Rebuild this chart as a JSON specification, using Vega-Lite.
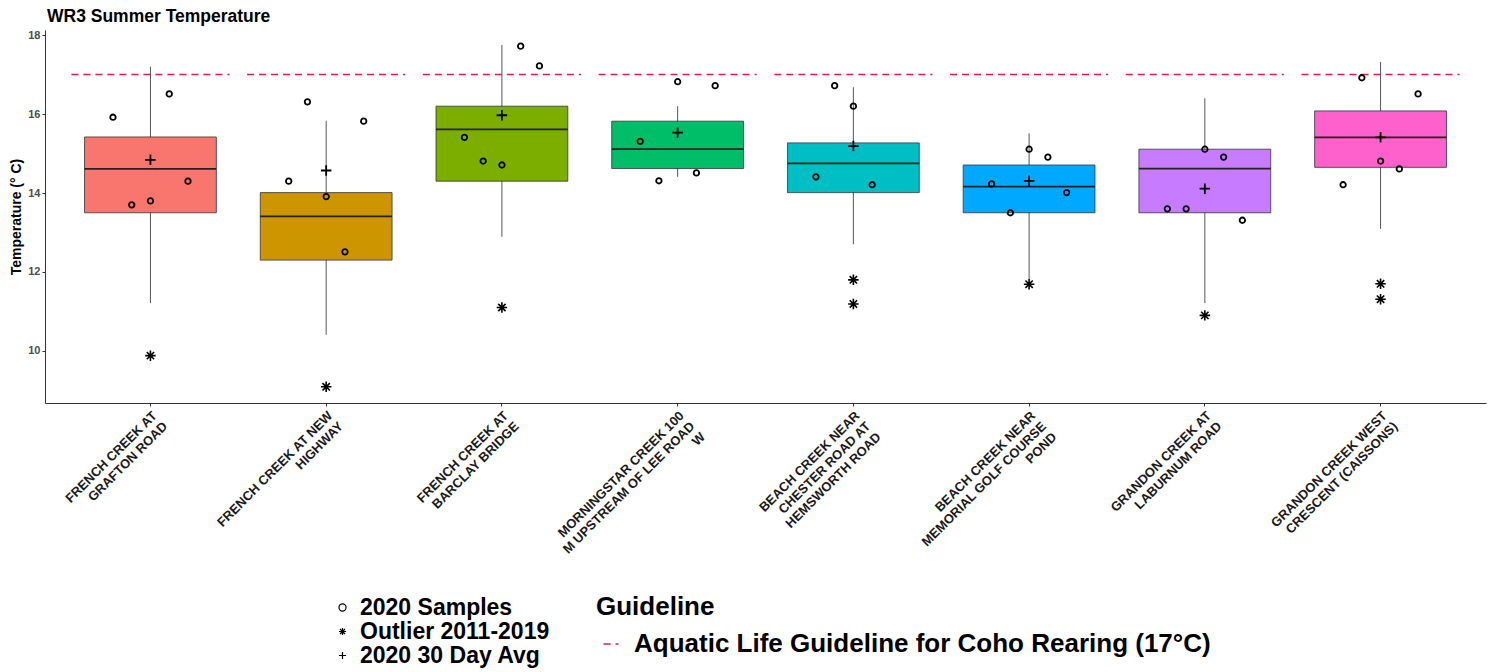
{
  "$schema": "https://vega.github.io/schema/vega-lite/v6.json",
  "width": 1441,
  "height": 373,
  "autosize": {"type": "none"},
  "padding": {"left": 45, "top": 30, "right": 9, "bottom": 269},
  "background": "white",
  "title": {"text": "WR3 Summer Temperature", "anchor": "start", "frame": "group", "fontSize": 17.5, "fontWeight": "bold", "font": "Liberation Sans", "color": "black", "offset": 8, "baseline": "alphabetic", "dx": 2, "dy": 18},
  "config": {
    "view": {"stroke": null},
    "axis": {"grid": false, "domainColor": "#333333", "tickColor": "#333333", "labelFont": "Liberation Sans", "titleFont": "Liberation Sans"},
    "legend": {"labelFont": "Liberation Sans", "titleFont": "Liberation Sans"}
  },
  "datasets": {
    "sites": [
      {"site": "FRENCH CREEK AT\nGRAFTON ROAD", "lower": 11.21, "q1": 13.50, "median": 14.61, "q3": 15.42, "upper": 17.20, "guideline": 17, "guide": "Aquatic Life Guideline for Coho Rearing (17°C)"},
      {"site": "FRENCH CREEK AT NEW\nHIGHWAY", "lower": 10.41, "q1": 12.30, "median": 13.41, "q3": 14.01, "upper": 15.83, "guideline": 17, "guide": "Aquatic Life Guideline for Coho Rearing (17°C)"},
      {"site": "FRENCH CREEK AT\nBARCLAY BRIDGE", "lower": 12.89, "q1": 14.30, "median": 15.61, "q3": 16.20, "upper": 17.75, "guideline": 17, "guide": "Aquatic Life Guideline for Coho Rearing (17°C)"},
      {"site": "MORNINGSTAR CREEK 100\nM UPSTREAM OF LEE ROAD\nW", "lower": 14.41, "q1": 14.62, "median": 15.11, "q3": 15.82, "upper": 16.20, "guideline": 17, "guide": "Aquatic Life Guideline for Coho Rearing (17°C)"},
      {"site": "BEACH CREEK NEAR\nCHESTER ROAD AT\nHEMSWORTH ROAD", "lower": 12.70, "q1": 14.01, "median": 14.75, "q3": 15.27, "upper": 16.68, "guideline": 17, "guide": "Aquatic Life Guideline for Coho Rearing (17°C)"},
      {"site": "BEACH CREEK NEAR\nMEMORIAL GOLF COURSE\nPOND", "lower": 11.82, "q1": 13.50, "median": 14.16, "q3": 14.71, "upper": 15.51, "guideline": 17, "guide": "Aquatic Life Guideline for Coho Rearing (17°C)"},
      {"site": "GRANDON CREEK AT\nLABURNUM ROAD", "lower": 11.21, "q1": 13.50, "median": 14.62, "q3": 15.11, "upper": 16.40, "guideline": 17, "guide": "Aquatic Life Guideline for Coho Rearing (17°C)"},
      {"site": "GRANDON CREEK WEST\nCRESCENT (CAISSONS)", "lower": 13.09, "q1": 14.65, "median": 15.41, "q3": 16.08, "upper": 17.32, "guideline": 17, "guide": "Aquatic Life Guideline for Coho Rearing (17°C)"}
    ],
    "obs": [
      {"site": "FRENCH CREEK AT\nGRAFTON ROAD", "kind": "2020 Samples", "temp": 15.92, "sample": "1"},
      {"site": "FRENCH CREEK AT\nGRAFTON ROAD", "kind": "2020 Samples", "temp": 13.70, "sample": "2"},
      {"site": "FRENCH CREEK AT\nGRAFTON ROAD", "kind": "2020 Samples", "temp": 13.80, "sample": "3"},
      {"site": "FRENCH CREEK AT\nGRAFTON ROAD", "kind": "2020 Samples", "temp": 16.51, "sample": "4"},
      {"site": "FRENCH CREEK AT\nGRAFTON ROAD", "kind": "2020 Samples", "temp": 14.30, "sample": "5"},
      {"site": "FRENCH CREEK AT\nGRAFTON ROAD", "kind": "2020 30 Day Avg", "temp": 14.84},
      {"site": "FRENCH CREEK AT\nGRAFTON ROAD", "kind": "Outlier 2011-2019", "temp": 9.88},
      {"site": "FRENCH CREEK AT NEW\nHIGHWAY", "kind": "2020 Samples", "temp": 14.30, "sample": "1"},
      {"site": "FRENCH CREEK AT NEW\nHIGHWAY", "kind": "2020 Samples", "temp": 16.31, "sample": "2"},
      {"site": "FRENCH CREEK AT NEW\nHIGHWAY", "kind": "2020 Samples", "temp": 13.91, "sample": "3"},
      {"site": "FRENCH CREEK AT NEW\nHIGHWAY", "kind": "2020 Samples", "temp": 12.51, "sample": "4"},
      {"site": "FRENCH CREEK AT NEW\nHIGHWAY", "kind": "2020 Samples", "temp": 15.82, "sample": "5"},
      {"site": "FRENCH CREEK AT NEW\nHIGHWAY", "kind": "2020 30 Day Avg", "temp": 14.57},
      {"site": "FRENCH CREEK AT NEW\nHIGHWAY", "kind": "Outlier 2011-2019", "temp": 9.09},
      {"site": "FRENCH CREEK AT\nBARCLAY BRIDGE", "kind": "2020 Samples", "temp": 15.41, "sample": "1"},
      {"site": "FRENCH CREEK AT\nBARCLAY BRIDGE", "kind": "2020 Samples", "temp": 14.81, "sample": "2"},
      {"site": "FRENCH CREEK AT\nBARCLAY BRIDGE", "kind": "2020 Samples", "temp": 14.71, "sample": "3"},
      {"site": "FRENCH CREEK AT\nBARCLAY BRIDGE", "kind": "2020 Samples", "temp": 17.72, "sample": "4"},
      {"site": "FRENCH CREEK AT\nBARCLAY BRIDGE", "kind": "2020 Samples", "temp": 17.22, "sample": "5"},
      {"site": "FRENCH CREEK AT\nBARCLAY BRIDGE", "kind": "2020 30 Day Avg", "temp": 15.97},
      {"site": "FRENCH CREEK AT\nBARCLAY BRIDGE", "kind": "Outlier 2011-2019", "temp": 11.10},
      {"site": "MORNINGSTAR CREEK 100\nM UPSTREAM OF LEE ROAD\nW", "kind": "2020 Samples", "temp": 15.31, "sample": "1"},
      {"site": "MORNINGSTAR CREEK 100\nM UPSTREAM OF LEE ROAD\nW", "kind": "2020 Samples", "temp": 14.31, "sample": "2"},
      {"site": "MORNINGSTAR CREEK 100\nM UPSTREAM OF LEE ROAD\nW", "kind": "2020 Samples", "temp": 16.82, "sample": "3"},
      {"site": "MORNINGSTAR CREEK 100\nM UPSTREAM OF LEE ROAD\nW", "kind": "2020 Samples", "temp": 14.51, "sample": "4"},
      {"site": "MORNINGSTAR CREEK 100\nM UPSTREAM OF LEE ROAD\nW", "kind": "2020 Samples", "temp": 16.72, "sample": "5"},
      {"site": "MORNINGSTAR CREEK 100\nM UPSTREAM OF LEE ROAD\nW", "kind": "2020 30 Day Avg", "temp": 15.53},
      {"site": "BEACH CREEK NEAR\nCHESTER ROAD AT\nHEMSWORTH ROAD", "kind": "2020 Samples", "temp": 14.41, "sample": "1"},
      {"site": "BEACH CREEK NEAR\nCHESTER ROAD AT\nHEMSWORTH ROAD", "kind": "2020 Samples", "temp": 16.72, "sample": "2"},
      {"site": "BEACH CREEK NEAR\nCHESTER ROAD AT\nHEMSWORTH ROAD", "kind": "2020 Samples", "temp": 16.20, "sample": "3"},
      {"site": "BEACH CREEK NEAR\nCHESTER ROAD AT\nHEMSWORTH ROAD", "kind": "2020 Samples", "temp": 14.21, "sample": "4"},
      {"site": "BEACH CREEK NEAR\nCHESTER ROAD AT\nHEMSWORTH ROAD", "kind": "2020 30 Day Avg", "temp": 15.19},
      {"site": "BEACH CREEK NEAR\nCHESTER ROAD AT\nHEMSWORTH ROAD", "kind": "Outlier 2011-2019", "temp": 11.80},
      {"site": "BEACH CREEK NEAR\nCHESTER ROAD AT\nHEMSWORTH ROAD", "kind": "Outlier 2011-2019", "temp": 11.19},
      {"site": "BEACH CREEK NEAR\nMEMORIAL GOLF COURSE\nPOND", "kind": "2020 Samples", "temp": 14.23, "sample": "1"},
      {"site": "BEACH CREEK NEAR\nMEMORIAL GOLF COURSE\nPOND", "kind": "2020 Samples", "temp": 13.50, "sample": "2"},
      {"site": "BEACH CREEK NEAR\nMEMORIAL GOLF COURSE\nPOND", "kind": "2020 Samples", "temp": 15.11, "sample": "3"},
      {"site": "BEACH CREEK NEAR\nMEMORIAL GOLF COURSE\nPOND", "kind": "2020 Samples", "temp": 14.91, "sample": "4"},
      {"site": "BEACH CREEK NEAR\nMEMORIAL GOLF COURSE\nPOND", "kind": "2020 Samples", "temp": 14.01, "sample": "5"},
      {"site": "BEACH CREEK NEAR\nMEMORIAL GOLF COURSE\nPOND", "kind": "2020 30 Day Avg", "temp": 14.31},
      {"site": "BEACH CREEK NEAR\nMEMORIAL GOLF COURSE\nPOND", "kind": "Outlier 2011-2019", "temp": 11.69},
      {"site": "GRANDON CREEK AT\nLABURNUM ROAD", "kind": "2020 Samples", "temp": 13.60, "sample": "1"},
      {"site": "GRANDON CREEK AT\nLABURNUM ROAD", "kind": "2020 Samples", "temp": 13.60, "sample": "2"},
      {"site": "GRANDON CREEK AT\nLABURNUM ROAD", "kind": "2020 Samples", "temp": 15.11, "sample": "3"},
      {"site": "GRANDON CREEK AT\nLABURNUM ROAD", "kind": "2020 Samples", "temp": 14.91, "sample": "4"},
      {"site": "GRANDON CREEK AT\nLABURNUM ROAD", "kind": "2020 Samples", "temp": 13.31, "sample": "5"},
      {"site": "GRANDON CREEK AT\nLABURNUM ROAD", "kind": "2020 30 Day Avg", "temp": 14.11},
      {"site": "GRANDON CREEK AT\nLABURNUM ROAD", "kind": "Outlier 2011-2019", "temp": 10.90},
      {"site": "GRANDON CREEK WEST\nCRESCENT (CAISSONS)", "kind": "2020 Samples", "temp": 14.21, "sample": "1"},
      {"site": "GRANDON CREEK WEST\nCRESCENT (CAISSONS)", "kind": "2020 Samples", "temp": 16.92, "sample": "2"},
      {"site": "GRANDON CREEK WEST\nCRESCENT (CAISSONS)", "kind": "2020 Samples", "temp": 14.81, "sample": "3"},
      {"site": "GRANDON CREEK WEST\nCRESCENT (CAISSONS)", "kind": "2020 Samples", "temp": 14.61, "sample": "4"},
      {"site": "GRANDON CREEK WEST\nCRESCENT (CAISSONS)", "kind": "2020 Samples", "temp": 16.51, "sample": "5"},
      {"site": "GRANDON CREEK WEST\nCRESCENT (CAISSONS)", "kind": "2020 30 Day Avg", "temp": 15.41},
      {"site": "GRANDON CREEK WEST\nCRESCENT (CAISSONS)", "kind": "Outlier 2011-2019", "temp": 11.70},
      {"site": "GRANDON CREEK WEST\nCRESCENT (CAISSONS)", "kind": "Outlier 2011-2019", "temp": 11.31}
    ]
  },
  "layer": [
    {
      "data": {"name": "sites"},
      "mark": {"type": "rule", "color": "#555555", "strokeWidth": 1},
      "encoding": {
        "x": {
          "field": "site", "type": "nominal", "sort": null,
          "scale": {
            "domain": ["FRENCH CREEK AT\nGRAFTON ROAD", "FRENCH CREEK AT NEW\nHIGHWAY", "FRENCH CREEK AT\nBARCLAY BRIDGE", "MORNINGSTAR CREEK 100\nM UPSTREAM OF LEE ROAD\nW", "BEACH CREEK NEAR\nCHESTER ROAD AT\nHEMSWORTH ROAD", "BEACH CREEK NEAR\nMEMORIAL GOLF COURSE\nPOND", "GRANDON CREEK AT\nLABURNUM ROAD", "GRANDON CREEK WEST\nCRESCENT (CAISSONS)"],
            "paddingInner": 0, "paddingOuter": 0.1
          },
          "axis": {"title": null, "labelAngle": -45, "labelAlign": "right", "labelBaseline": "top", "labelExpr": "split(datum.label, '\\n')", "labelFontSize": 13, "labelFontWeight": "bold", "labelColor": "#1a1a1a", "labelLimit": 0, "tickSize": 3, "labelPadding": 3, "labelLineHeight": 15}
        },
        "y": {
          "field": "lower", "type": "quantitative",
          "scale": {"domain": [8.68, 18.13], "nice": false, "zero": false},
          "axis": {"values": [10, 12, 14, 16, 18], "title": "Temperature (° C)", "titleFontSize": 14, "titleFontWeight": "bold", "titleColor": "black", "titleX": -29, "titleBaseline": "middle", "labelFontSize": 11, "labelColor": "#4d4d4d", "labelFontWeight": "bold", "tickSize": 3, "labelPadding": 2}
        },
        "y2": {"field": "upper"}
      }
    },
    {
      "data": {"name": "sites"},
      "mark": {"type": "bar", "stroke": "#333333", "strokeWidth": 0.8, "opacity": 1},
      "encoding": {
        "x": {"field": "site", "type": "nominal", "sort": null, "bandPosition": 0.125},
        "x2": {"field": "site", "bandPosition": 0.875},
        "y": {"field": "q1", "type": "quantitative"},
        "y2": {"field": "q3"},
        "fill": {
          "field": "site", "type": "nominal", "sort": null, "legend": null,
          "scale": {"range": ["#F8766D", "#CD9600", "#7CAE00", "#00BE67", "#00BFC4", "#00A9FF", "#C77CFF", "#FF61CC"]}
        }
      }
    },
    {
      "data": {"name": "sites"},
      "mark": {"type": "rule", "color": "#222222", "strokeWidth": 1.8},
      "encoding": {
        "x": {"field": "site", "type": "nominal", "sort": null, "bandPosition": 0.125},
        "x2": {"field": "site", "bandPosition": 0.875},
        "y": {"field": "median", "type": "quantitative"}
      }
    },
    {
      "data": {"name": "sites"},
      "mark": {"type": "rule", "color": "#e41a4b", "strokeWidth": 1.5},
      "encoding": {
        "x": {"field": "site", "type": "nominal", "sort": null, "bandPosition": 0.05},
        "x2": {"field": "site", "bandPosition": 0.95},
        "y": {"field": "guideline", "type": "quantitative"},
        "strokeDash": {
          "field": "guide", "type": "nominal",
          "scale": {"range": [[7, 5]]},
          "legend": {"orient": "none", "legendX": 551, "legendY": 564, "title": "Guideline", "titleFontSize": 26, "titleFontWeight": "bold", "titleColor": "black", "titlePadding": 11, "labelFontSize": 26, "labelFontWeight": "bold", "labelColor": "black", "symbolType": "stroke", "symbolSize": 225, "symbolStrokeColor": "#e41a4b", "symbolStrokeWidth": 1.5, "symbolDash": [4, 3], "symbolOffset": 2, "labelOffset": 10, "labelLimit": 0}
        }
      }
    },
    {
      "data": {"name": "obs"},
      "transform": [{"filter": "datum.kind == '2020 Samples'"}],
      "mark": {"type": "point", "filled": false, "color": "black", "size": 30, "strokeWidth": 1.8, "opacity": 1},
      "encoding": {
        "x": {"field": "site", "type": "nominal", "sort": null},
        "xOffset": {"field": "sample", "type": "nominal", "sort": null, "scale": {"domain": ["1", "2", "3", "4", "5"], "paddingInner": 0, "paddingOuter": 0, "range": [50.4, 125.4]}},
        "y": {"field": "temp", "type": "quantitative"},
        "shape": {
          "field": "kind", "type": "nominal",
          "scale": {"domain": ["2020 Samples", "Outlier 2011-2019", "2020 30 Day Avg"], "range": ["circle", "M -1 0 L 1 0 M 0 -1 L 0 1 M -0.7 -0.7 L 0.7 0.7 M -0.7 0.7 L 0.7 -0.7", "M -1 0 L 1 0 M 0 -1 L 0 1"]},
          "legend": {"orient": "none", "legendX": 286, "legendY": 566, "title": null, "labelFontSize": 23, "labelFontWeight": "bold", "labelColor": "black", "symbolSize": 50, "symbolStrokeColor": "black", "symbolStrokeWidth": 1.2, "symbolFillColor": "transparent", "rowPadding": -1, "labelOffset": 6, "labelLimit": 0}
        }
      }
    },
    {
      "data": {"name": "obs"},
      "transform": [{"filter": "datum.kind == '2020 30 Day Avg'"}],
      "mark": {"type": "point", "filled": false, "color": "black", "size": 110, "strokeWidth": 1.8, "opacity": 1},
      "encoding": {
        "x": {"field": "site", "type": "nominal", "sort": null},
        "y": {"field": "temp", "type": "quantitative"},
        "shape": {"field": "kind", "type": "nominal"}
      }
    },
    {
      "data": {"name": "obs"},
      "transform": [{"filter": "datum.kind == 'Outlier 2011-2019'"}],
      "mark": {"type": "point", "filled": false, "color": "black", "size": 110, "strokeWidth": 1.6, "opacity": 1},
      "encoding": {
        "x": {"field": "site", "type": "nominal", "sort": null},
        "y": {"field": "temp", "type": "quantitative"},
        "shape": {"field": "kind", "type": "nominal"}
      }
    }
  ]
}
